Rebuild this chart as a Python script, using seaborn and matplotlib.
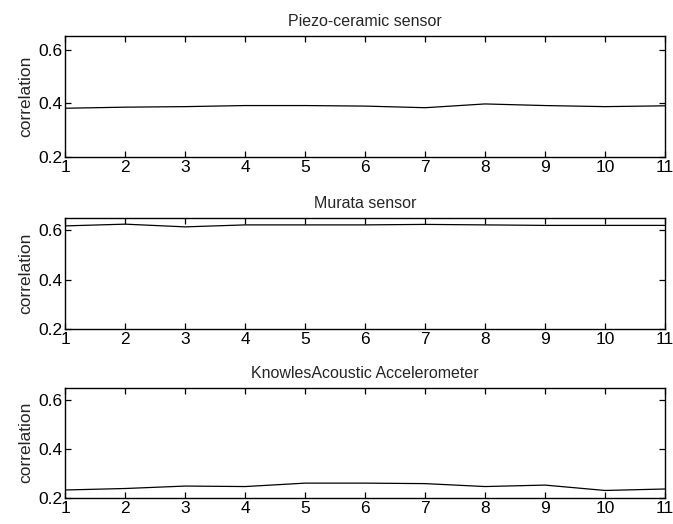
import matplotlib
matplotlib.use("Agg")
import matplotlib.pyplot as plt
import seaborn as sns
import numpy as np

# --- Veri ---
x_vals = [1, 2, 3, 4, 5, 6, 7, 8, 9, 10, 11]
piezo = [0.382, 0.386, 0.388, 0.392, 0.392, 0.390, 0.384, 0.398, 0.392, 0.388, 0.391]
murata = [0.618, 0.625, 0.614, 0.622, 0.622, 0.622, 0.624, 0.622, 0.620, 0.620, 0.620]
knowles = [0.232, 0.238, 0.248, 0.246, 0.260, 0.260, 0.258, 0.246, 0.252, 0.230, 0.236]
titles = ["Piezo-ceramic sensor", "Murata sensor", "KnowlesAcoustic Accelerometer"]
y_ticks = [0.2, 0.4, 0.6]

sns.set_style("ticks")
plt.rcParams['font.family'] = ['Liberation Sans', 'DejaVu Sans']

fig = plt.figure(figsize=(6.73, 5.24), dpi=100)
# panel konumlari (sol, alt, genislik, yukseklik)
boxes = [
    [0.097, 0.700, 0.891, 0.231],
    [0.097, 0.372, 0.891, 0.212],
    [0.097, 0.050, 0.891, 0.210],
]

for box, title, series in zip(boxes, titles, [piezo, murata, knowles]):
    ax = fig.add_axes(box)
    sns.lineplot(x=x_vals, y=series, ax=ax, color="black", linewidth=0.9)
    ax.set_xlim(1, 11)
    ax.set_ylim(0.2, 0.65)
    ax.set_xticks(x_vals)
    ax.set_yticks(y_ticks)
    ax.set_yticklabels([f"{t:.1f}" for t in y_ticks])
    ax.tick_params(direction="in", top=True, right=True, length=4,
                   width=0.9, labelsize=12.5, colors="black", pad=2)
    for s in ax.spines.values():
        s.set_linewidth(1.0)
        s.set_color("black")
    ax.set_ylabel("correlation", fontsize=12.5, labelpad=4)
    ax.set_title(title, fontsize=11.5, pad=7)

plt.savefig("out.png", dpi=100)
